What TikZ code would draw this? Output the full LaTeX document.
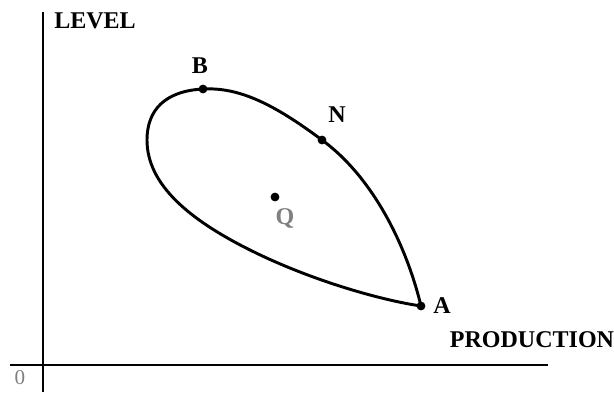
\documentclass[tikz,border=0pt]{standalone}
\usepackage{fontspec}
\setmainfont{Liberation Serif}
\usepackage{xcolor}
\usetikzlibrary{positioning}
\definecolor{labelgray}{HTML}{808080}
\tikzstyle{axis} = [line width=2.5pt, black]
\tikzstyle{loopline} = [line width=2.5pt, black, line join=round]
\tikzstyle{dot} = [circle, fill=black, inner sep=0pt, minimum size=7.5pt]
\tikzstyle{lbl} = [inner sep=0pt, font=\fontsize{20.5}{22}\selectfont\bfseries]

\begin{document}
\begin{tikzpicture}[x=0.03cm, y=-0.03cm]
\useasboundingbox (0,0) rectangle (614,394);
% axes
\coordinate (ytop) at (43,12);
\coordinate (ybot) at (43,392);
\coordinate (xleft) at (10,365);
\coordinate (xright) at (548,365);
\draw[axis] (ytop) -- (ybot);
\draw[axis] (xleft) -- (xright);
\node[lbl] (level) at (95,21) {LEVEL};
\node[lbl] (production) at (532,340) {PRODUCTION};
\node[inner sep=0pt, text=labelgray, font=\fontsize{18}{19}\selectfont] (zero) at (20,378) {0};

% the loop
\coordinate (A) at (421,306);
\coordinate (N) at (322,140);
\coordinate (B) at (203,89);
\coordinate (W) at (147,140);
\coordinate (S) at (250,250);
\draw[loopline] (A) .. controls (405,240) and (370,175) .. (N)
  .. controls (275,105) and (240,87) .. (B)
  .. controls (165,91) and (147,110) .. (W)
  .. controls (147,185) and (190,220) .. (S)
  .. controls (310,280) and (380,300) .. (A) -- cycle;

% points
\node[dot] (dotA) at (A) {};
\node[dot] (dotB) at (B) {};
\node[dot] (dotN) at (N) {};
\node[dot] (dotQ) at (275,197) {};
\node[lbl] (labA) at (442,306) {A};
\node[lbl] (labB) at (200,66) {B};
\node[lbl] (labN) at (337,115) {N};
\node[lbl, text=labelgray, anchor=north] (labQ) at (285,208) {Q};
\end{tikzpicture}
\end{document}
